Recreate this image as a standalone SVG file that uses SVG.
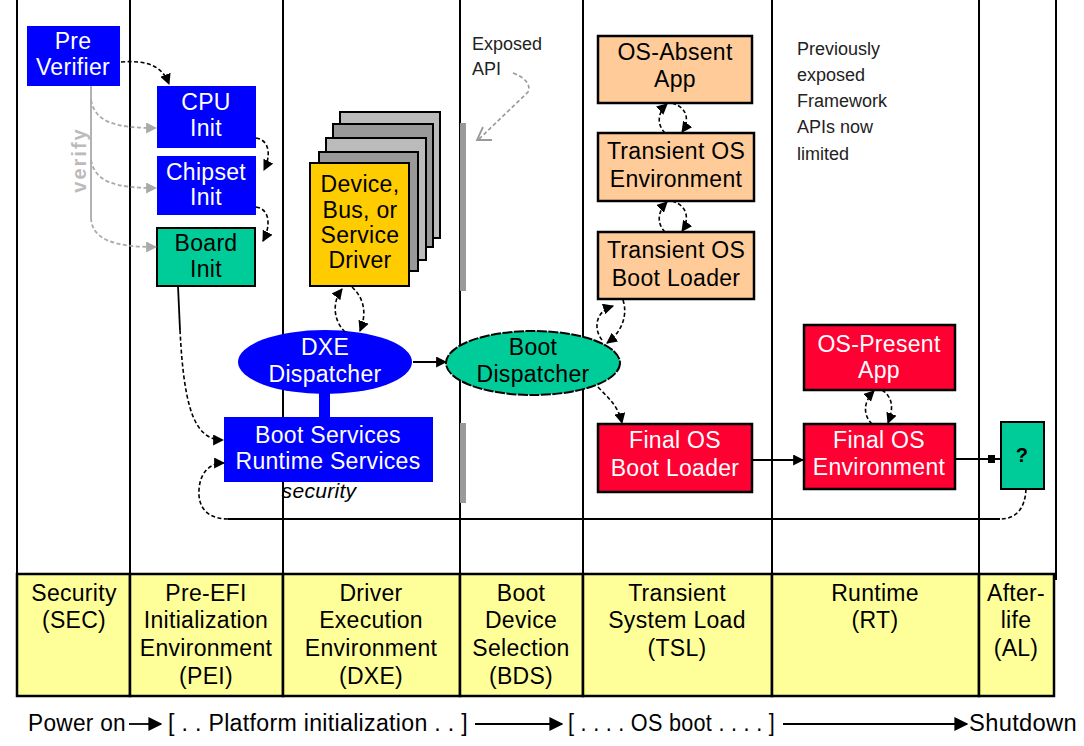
<svg xmlns="http://www.w3.org/2000/svg" width="1084" height="746" viewBox="0 0 1084 746">
<style>
text{font-family:"Liberation Sans",Arial,sans-serif;font-size:23px;letter-spacing:0.3px;text-anchor:middle}
.w{fill:#fff}
.k{fill:#000}
.small{font-size:18px;letter-spacing:0;text-anchor:start;fill:#222}
.frame{stroke:#000;stroke-width:2;fill:none}
.bl{fill:#0000ff}
.gr{fill:#00cc99;stroke:#000;stroke-width:2}
.or{fill:#ffcc99;stroke:#000;stroke-width:2.5}
.rd{fill:#ff0033;stroke:#000;stroke-width:2.5}
.cell{fill:#ffff99;stroke:#000;stroke-width:2.5}
.d{fill:none;stroke:#000;stroke-width:1.6;stroke-dasharray:4 2.5}
.s{fill:none;stroke:#000;stroke-width:1.8}
.g{fill:none;stroke:#aaa;stroke-width:1.8;stroke-dasharray:4 2.5}
.gs{fill:none;stroke:#aaa;stroke-width:1.8}
</style>
<defs>
<marker id="ah" viewBox="0 0 10 10" refX="9" refY="5" markerWidth="11" markerHeight="11" markerUnits="userSpaceOnUse" orient="auto"><path d="M0,0 L10,5 L0,10 z" fill="#000"/></marker>
<marker id="gah" viewBox="0 0 10 10" refX="9" refY="5" markerWidth="11" markerHeight="11" markerUnits="userSpaceOnUse" orient="auto"><path d="M0,0 L10,5 L0,10 z" fill="#aaa"/></marker>
<marker id="bah" viewBox="0 0 10 10" refX="9" refY="5" markerWidth="14" markerHeight="14" markerUnits="userSpaceOnUse" orient="auto"><path d="M0,0 L10,5 L0,10 z" fill="#000"/></marker>
</defs>
<rect width="1084" height="746" fill="#fff"/>

<g id="lanes" class="frame">
<line x1="17" y1="0" x2="17" y2="574"/>
<line x1="130" y1="0" x2="130" y2="574"/>
<line x1="283" y1="0" x2="283" y2="574"/>
<line x1="460" y1="0" x2="460" y2="574"/>
<line x1="583" y1="0" x2="583" y2="574"/>
<line x1="772" y1="0" x2="772" y2="574"/>
<line x1="979" y1="0" x2="979" y2="574"/>
<line x1="1056" y1="0" x2="1056" y2="580"/>
</g>

<g id="phase-table">
<rect class="cell" x="17" y="574" width="113" height="122"/>
<rect class="cell" x="130" y="574" width="153" height="122"/>
<rect class="cell" x="283" y="574" width="177" height="122"/>
<rect class="cell" x="460" y="574" width="123" height="122"/>
<rect class="cell" x="583" y="574" width="189" height="122"/>
<rect class="cell" x="772" y="574" width="207" height="122"/>
<rect class="cell" x="979" y="574" width="75" height="122"/>
<g class="k">
<text x="74" y="601">Security</text><text x="74" y="628">(SEC)</text>
<text x="206" y="601">Pre-EFI</text><text x="206" y="628">Initialization</text><text x="206" y="656">Environment</text><text x="206" y="684">(PEI)</text>
<text x="371" y="601">Driver</text><text x="371" y="628">Execution</text><text x="371" y="656">Environment</text><text x="371" y="684">(DXE)</text>
<text x="521" y="601">Boot</text><text x="521" y="628">Device</text><text x="521" y="656">Selection</text><text x="521" y="684">(BDS)</text>
<text x="677" y="601">Transient</text><text x="677" y="628">System Load</text><text x="677" y="656">(TSL)</text>
<text x="875" y="601">Runtime</text><text x="875" y="628">(RT)</text>
<text x="1016" y="601">After-</text><text x="1016" y="628">life</text><text x="1016" y="656">(AL)</text>
</g>
</g>

<g id="api-bars" fill="#999">
<rect x="460" y="123" width="6" height="168"/>
<rect x="460" y="423" width="6" height="80"/>
</g>

<g id="pre-verifier"><rect class="bl" x="27" y="26" width="93" height="60"/><text class="w" x="73" y="49">Pre</text><text class="w" x="73" y="75">Verifier</text></g>
<g id="cpu-init"><rect class="bl" x="157" y="86" width="99" height="62"/><text class="w" x="206" y="110">CPU</text><text class="w" x="206" y="136">Init</text></g>
<g id="chipset-init"><rect class="bl" x="157" y="156" width="99" height="59"/><text class="w" x="206" y="180">Chipset</text><text class="w" x="206" y="205">Init</text></g>
<g id="board-init"><rect class="gr" x="157" y="228" width="98" height="58"/><text class="k" x="206" y="251">Board</text><text class="k" x="206" y="277">Init</text></g>

<g id="verify-label"><text x="0" y="0" transform="translate(86,160) rotate(-90)" style="fill:#bbb;font-weight:bold;font-size:20px;letter-spacing:2px">verify</text></g>

<g id="driver-stack">
<rect x="340" y="112" width="100" height="126" fill="#bbb" stroke="#000" stroke-width="2"/>
<rect x="333" y="124" width="100" height="123" fill="#999" stroke="#000" stroke-width="2"/>
<rect x="326" y="138" width="100" height="122" fill="#bbb" stroke="#000" stroke-width="2"/>
<rect x="319" y="152" width="99" height="119" fill="#999" stroke="#000" stroke-width="2"/>
<rect x="310" y="163" width="99" height="123" fill="#ffcc00" stroke="#000" stroke-width="2"/>
<g class="k"><text x="360" y="192">Device,</text><text x="360" y="218">Bus, or</text><text x="360" y="243">Service</text><text x="360" y="268">Driver</text></g>
</g>

<g id="dxe-dispatcher"><ellipse cx="325" cy="362" rx="87" ry="32" fill="#0000ff"/><text class="w" x="325" y="355">DXE</text><text class="w" x="325" y="382">Dispatcher</text></g>
<g id="boot-services"><rect x="319" y="392" width="11" height="26" fill="#0000ff"/><rect class="bl" x="224" y="417" width="209" height="65"/><text class="w" x="328" y="443">Boot Services</text><text class="w" x="328" y="469">Runtime Services</text><text x="319" y="498" style="font-style:italic;font-size:21px" class="k">security</text></g>
<g id="boot-dispatcher"><ellipse cx="533" cy="363" rx="87" ry="32" fill="#00cc99" stroke="#000" stroke-width="2" stroke-dasharray="10 1.5"/><text class="k" x="533" y="355">Boot</text><text class="k" x="533" y="382">Dispatcher</text></g>

<g id="os-absent-app"><rect class="or" x="598" y="36" width="154" height="67"/><text class="k" x="675" y="60">OS-Absent</text><text class="k" x="675" y="87">App</text></g>
<g id="transient-os-env"><rect class="or" x="598" y="133" width="156" height="68"/><text class="k" x="676" y="159">Transient OS</text><text class="k" x="676" y="187">Environment</text></g>
<g id="transient-os-loader"><rect class="or" x="598" y="232" width="156" height="67"/><text class="k" x="676" y="258">Transient OS</text><text class="k" x="676" y="286">Boot Loader</text></g>
<g id="final-os-loader"><rect class="rd" x="598" y="424" width="154" height="68"/><text class="w" x="675" y="448">Final OS</text><text class="w" x="675" y="476">Boot Loader</text></g>
<g id="os-present-app"><rect class="rd" x="804" y="325" width="151" height="65"/><text class="w" x="879" y="352">OS-Present</text><text class="w" x="879" y="378">App</text></g>
<g id="final-os-env"><rect class="rd" x="804" y="424" width="151" height="65"/><text class="w" x="879" y="448">Final OS</text><text class="w" x="879" y="475">Environment</text></g>
<g id="afterlife"><rect class="gr" x="1001" y="422" width="43" height="67"/><text class="k" x="1022" y="462" style="font-weight:bold;font-size:20px">?</text></g>

<g id="notes">
<text class="small" x="472" y="50">Exposed</text><text class="small" x="472" y="75">API</text>
<text class="small" x="797" y="55">Previously</text><text class="small" x="797" y="81">exposed</text><text class="small" x="797" y="107">Framework</text><text class="small" x="797" y="133">APIs now</text><text class="small" x="797" y="160">limited</text>
</g>

<g id="connectors">
<path class="d" d="M121,62 C148,60 162,66 169,84" marker-end="url(#ah)"/>
<path class="gs" d="M91,86 V218"/>
<path class="g" d="M91,100 C95,122 115,128 156,128" marker-end="url(#gah)"/>
<path class="g" d="M91,160 C95,182 115,188 156,188" marker-end="url(#gah)"/>
<path class="g" d="M91,218 C92,240 115,247 156,247" marker-end="url(#gah)"/>
<path class="d" d="M256,138 C270,140 271,156 264,170" marker-end="url(#ah)"/>
<path class="d" d="M256,207 C270,209 271,226 263,241" marker-end="url(#ah)"/>
<path class="s" d="M178,286 L180,330"/>
<path class="d" d="M180,330 C184,410 195,440 223,440" marker-end="url(#ah)"/>
<path class="d" d="M345,332 C333,320 332,302 342,289" marker-end="url(#ah)"/>
<path class="d" d="M352,287 C366,300 366,316 360,331" marker-end="url(#ah)"/>
<path class="s" d="M413,362 H446" marker-end="url(#ah)"/>
<path class="d" d="M602,340 C594,330 594,312 613,306" marker-end="url(#ah)"/>
<path class="d" d="M623,300 C628,315 622,332 607,343" marker-end="url(#ah)"/>
<path class="d" d="M598,387 C608,398 618,405 622,423" marker-end="url(#ah)"/>
<path class="d" d="M665,133 C657,125 657,113 667,104" marker-end="url(#ah)"/>
<path class="d" d="M672,103 C689,108 689,122 682,132" marker-end="url(#ah)"/>
<path class="d" d="M665,232 C657,224 657,212 667,202" marker-end="url(#ah)"/>
<path class="d" d="M672,201 C689,206 689,221 682,231" marker-end="url(#ah)"/>
<path class="d" d="M872,424 C863,415 863,402 874,391" marker-end="url(#ah)"/>
<path class="d" d="M882,390 C894,398 893,410 888,423" marker-end="url(#ah)"/>
<path class="s" d="M752,460 H803" marker-end="url(#ah)"/>
<path class="s" d="M955,459 H1001"/>
<rect x="988" y="455" width="7" height="8" fill="#000"/>
<path class="d" d="M1026,489 C1025,510 1015,519 1000,519"/>
<path class="s" d="M1000,519 H228"/>
<path class="d" d="M228,519 C205,519 198,505 199,490 C200,472 210,463 224,463" marker-end="url(#ah)"/>
<path fill="none" stroke="#999" stroke-width="1.6" stroke-dasharray="4 2.5" d="M513,73 C526,78 531,85 528,92 L478,140"/>
<path fill="none" stroke="#999" stroke-width="1.8" d="M483,127 L477,140 H492"/>
</g>

<g id="timeline">
<text x="28" y="731" style="text-anchor:start" textLength="98" lengthAdjust="spacingAndGlyphs">Power on</text>
<path class="s" d="M129,724 H161" stroke-width="3" marker-end="url(#bah)"/>
<text x="168" y="731" style="text-anchor:start" textLength="300" lengthAdjust="spacingAndGlyphs">[ . . Platform initialization . . ]</text>
<path class="s" d="M475,724 H562" stroke-width="3" marker-end="url(#bah)"/>
<text x="568" y="731" style="text-anchor:start" textLength="207" lengthAdjust="spacingAndGlyphs">[ . . . . OS boot . . . . ]</text>
<path class="s" d="M783,724 H967" stroke-width="3" marker-end="url(#bah)"/>
<text x="969" y="731" style="text-anchor:start" textLength="108" lengthAdjust="spacingAndGlyphs">Shutdown</text>
</g>
</svg>
